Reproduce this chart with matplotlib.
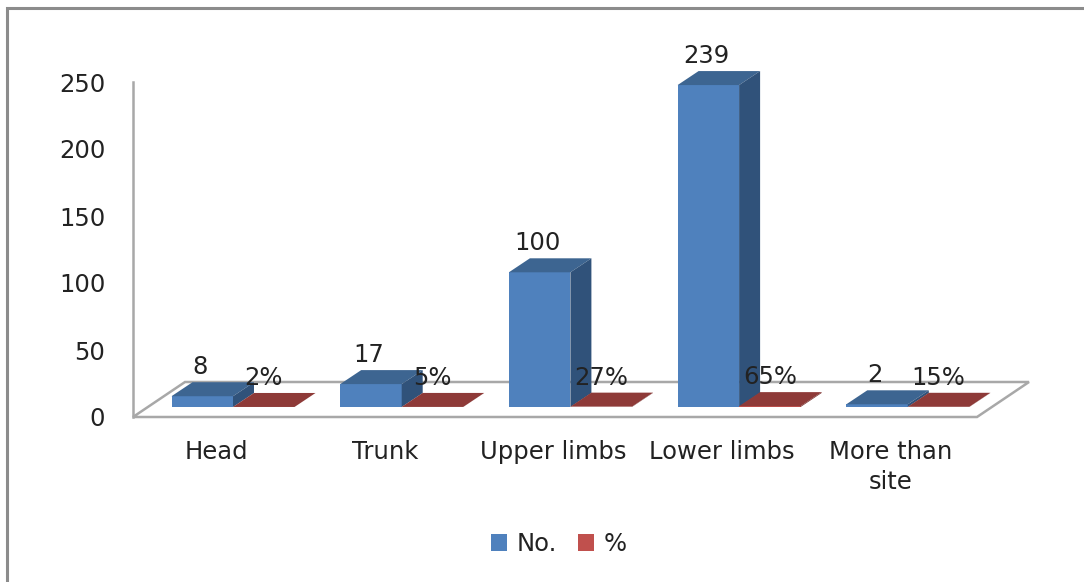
import matplotlib
matplotlib.use('Agg')
import matplotlib.pyplot as plt
from matplotlib.patches import Polygon, Rectangle

plt.rcParams['font.family'] = ['DejaVu Sans']

categories = ['Head', 'Trunk', 'Upper limbs', 'Lower limbs', 'More than\nsite']
counts = [8, 17, 100, 239, 2]
percents = [0.02, 0.05, 0.27, 0.65, 0.15]
percent_labels = ['2%', '5%', '27%', '65%', '15%']
y_ticks = [0, 50, 100, 150, 200, 250]

W, H = 1084, 582
TXT = '#222222'
FLOOR = '#a8a8a8'
BLUE = ('#4f81bd', '#3d6591', '#30527a')
RED = ('#c0504d', '#8e3a38', '#7a3230')
FS = 17.5

# axes box in image pixels
L, R, T, B = 133, 977, 82, 417
GROUP = 168.7      # px per category
BAR_PX = 61.5
Y_SCALE = 1.347    # px per unit
DEPTH_X, DEPTH_Y = 21, 14

fig = plt.figure(figsize=(W / 100, H / 100), dpi=100, facecolor='white')
box = [L / W, 1 - B / H, (R - L) / W, (B - T) / H]

# value axis, drawn at the left wall
ax_wall = fig.add_axes(box)
ax_wall.set_ylim(0, 250)
ax_wall.set_xticks([])
ax_wall.set_yticks(y_ticks)
ax_wall.tick_params(axis='y', length=0, pad=20, labelsize=FS, labelcolor=TXT)
for s in ['top', 'right', 'bottom']:
    ax_wall.spines[s].set_visible(False)
ax_wall.spines['left'].set_color(FLOOR)
ax_wall.spines['left'].set_linewidth(1.8)
ax_wall.patch.set_visible(False)

# bars sit 10px in front of the front floor edge
ax = fig.add_axes(box)
ax.patch.set_visible(False)
ax.set_xlim((L - 233) / GROUP, (R - 233) / GROUP)
ax.set_ylim(-(B - 407) / Y_SCALE, (407 - T) / Y_SCALE)
ax.set_yticks([])
for s in ax.spines.values():
    s.set_visible(False)

# floor
fx, fy = 52 / (R - L), 35 / (B - T)
ax.add_patch(Polygon([(0, 0), (1, 0), (1 + fx, fy), (fx, fy)], closed=True,
                     transform=ax.transAxes, fc='white', ec=FLOOR, lw=1.8,
                     clip_on=False, zorder=1))

bar_w = BAR_PX / GROUP
dx, dy = DEPTH_X / GROUP, DEPTH_Y / Y_SCALE


def draw_3d(x0, h, colors, z):
    # top and side faces of one column; the front comes from ax.bar
    ax.add_patch(Polygon([(x0, h), (x0 + bar_w, h), (x0 + bar_w + dx, h + dy), (x0 + dx, h + dy)],
                         fc=colors[1], ec='none', clip_on=False, zorder=z))
    ax.add_patch(Polygon([(x0 + bar_w, 0), (x0 + bar_w + dx, dy), (x0 + bar_w + dx, h + dy), (x0 + bar_w, h)],
                         fc=colors[2], ec='none', clip_on=False, zorder=z))


xs = list(range(len(categories)))
blue = ax.bar([x - bar_w for x in xs], counts, bar_w, align='edge', color=BLUE[0],
              label='No.', zorder=3, clip_on=False)
red = ax.bar(xs, percents, bar_w, align='edge', color=RED[0],
             label='%', zorder=5, clip_on=False)

for i, x in enumerate(xs):
    draw_3d(x - bar_w, counts[i], BLUE, 3)
    draw_3d(x, percents[i], RED, 5)
    ax.annotate(str(counts[i]), (x - bar_w / 2, counts[i] + dy), xytext=(-2, 15),
                textcoords='offset pixels', ha='center', va='center', annotation_clip=False,
                fontsize=FS, color=TXT, zorder=8)
    ax.annotate(percent_labels[i], (x + bar_w / 2, percents[i] + dy), xytext=(0, 15),
                textcoords='offset pixels', ha='center', va='center', annotation_clip=False,
                fontsize=FS, color=TXT, zorder=8)

ax.set_xticks([x - 17 / GROUP for x in xs])
ax.set_xticklabels(categories, fontsize=FS, color=TXT, linespacing=1.3, va='top')
ax.tick_params(axis='x', length=0, pad=16.5)

leg = fig.legend(handles=[blue, red], labels=['No.', '%'], ncol=2, frameon=False,
                 fontsize=FS, handlelength=0.66, handleheight=0.66, handletextpad=0.4,
                 columnspacing=0.85, labelcolor=TXT,
                 loc='center', bbox_to_anchor=(559 / W, 1 - 544 / H))

# outer chart frame, only top and left reach the image
fig.add_artist(Rectangle((7 / W, -0.1), 1.1, 1 - 8 / H + 0.1, transform=fig.transFigure,
                         fc='none', ec='#8c8c8c', lw=2.2))

fig.savefig('out.png', dpi=100, facecolor='white')
